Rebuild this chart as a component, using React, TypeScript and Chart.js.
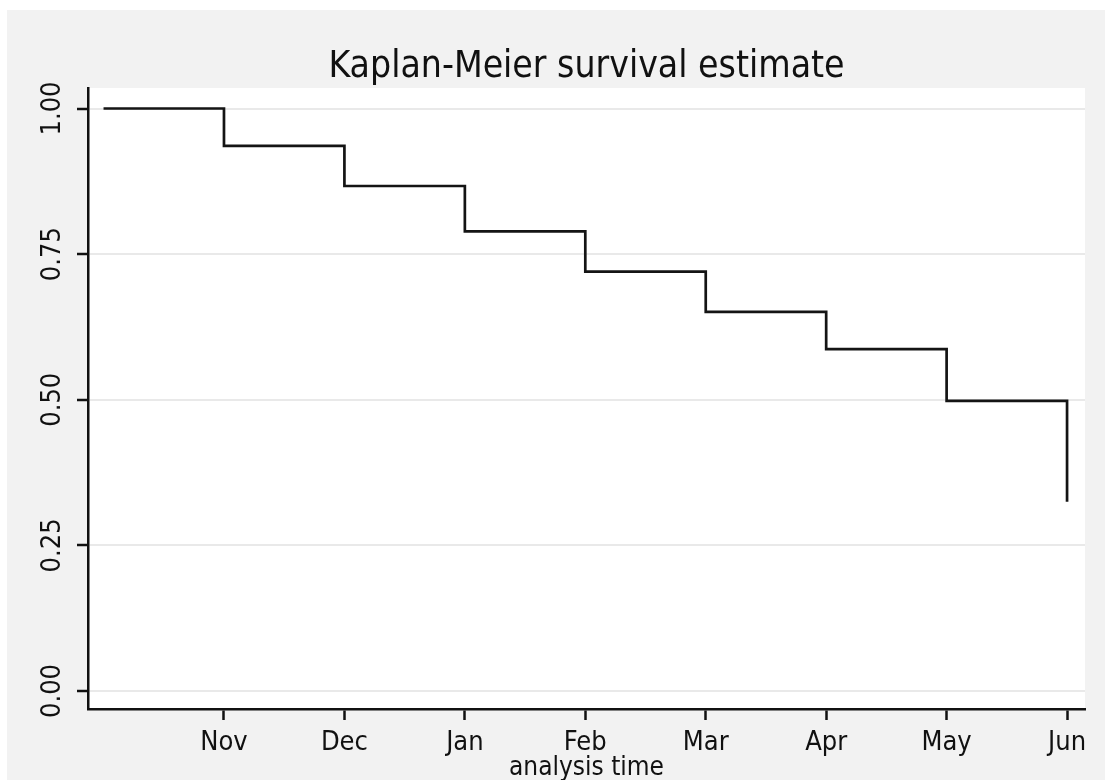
import React, { useEffect, useRef } from "react";
import { Chart, registerables } from "chart.js";

Chart.register(...registerables);

// Analysis time index (0 = start, 1 = Nov ... 8 = Jun)
const timePoints = [0, 1, 2, 3, 4, 5, 6, 7, 8];
const survival = [1.0, 0.936, 0.867, 0.789, 0.72, 0.651, 0.587, 0.498, 0.325];
const xTickValues = [1, 2, 3, 4, 5, 6, 7, 8];
const xTickLabels = ["Nov", "Dec", "Jan", "Feb", "Mar", "Apr", "May", "Jun"];
const yTickValues = [0, 0.25, 0.5, 0.75, 1.0];
const yTickLabels = ["0.00", "0.25", "0.50", "0.75", "1.00"];

const FONT = '"DejaVu Sans Condensed", "Liberation Sans Narrow", "DejaVu Sans", sans-serif';

const bgPlugin = {
  id: "stataBg",
  beforeDraw(chart: any) {
    const { ctx, width, height, chartArea } = chart;
    ctx.save();
    ctx.fillStyle = "#ffffff";
    ctx.fillRect(0, 0, width, height);
    ctx.fillStyle = "#f2f2f2";
    ctx.fillRect(7, 10, width - 7, height - 10);
    ctx.fillStyle = "#ffffff";
    ctx.fillRect(chartArea.left, chartArea.top, chartArea.right - chartArea.left, chartArea.bottom - chartArea.top);
    ctx.restore();
  },
};

export default function App() {
  const ref = useRef<HTMLCanvasElement | null>(null);

  useEffect(() => {
    document.body.style.margin = "0";
    const canvas = ref.current;
    if (!canvas) return;
    const chart = new Chart(canvas, {
      type: "line",
      data: {
        datasets: [
          {
            label: "Survivor function",
            data: timePoints.map((t, i) => ({ x: t, y: survival[i] })),
            borderColor: "#141414",
            borderWidth: 2.7,
            pointRadius: 0,
            stepped: true,
            fill: false,
          },
        ],
      },
      options: {
        animation: false,
        responsive: false,
        devicePixelRatio: 1,
        layout: { padding: { left: 0, top: 0, right: 20, bottom: 0 } },
        plugins: {
          legend: { display: false },
          tooltip: { enabled: false },
          title: {
            display: true,
            fullSize: false,
            text: "Kaplan-Meier survival estimate",
            color: "#111111",
            font: { family: FONT, size: 37, weight: "normal", lineHeight: 1 },
            padding: { top: 49, bottom: 2 },
          },
        },
        scales: {
          x: {
            type: "linear",
            min: -0.129,
            max: 8.149,
            afterBuildTicks: (scale: any) => {
              scale.ticks = xTickValues.map((v) => ({ value: v }));
            },
            afterFit: (scale: any) => {
              scale.height = 71;
            },
            ticks: {
              autoSkip: false,
              maxRotation: 0,
              minRotation: 0,
              padding: 7,
              color: "#111111",
              font: { family: FONT, size: 27 },
              callback: (v: any) => {
                const i = xTickValues.indexOf(Number(v));
                return i >= 0 ? xTickLabels[i] : "";
              },
            },
            grid: {
              drawOnChartArea: false,
              drawTicks: true,
              tickLength: 11,
              tickColor: "#111111",
              tickWidth: 2.5,
            },
            border: { display: true, color: "#111111", width: 2.5 },
            title: {
              display: true,
              text: "analysis time",
              color: "#111111",
              font: { family: FONT, size: 26, lineHeight: 1 },
              padding: { top: 0, bottom: -1 },
            },
          },
          y: {
            type: "linear",
            min: -0.0309,
            max: 1.0352,
            afterBuildTicks: (scale: any) => {
              scale.ticks = yTickValues.map((v) => ({ value: v }));
            },
            afterFit: (scale: any) => {
              scale.width = 88;
            },
            ticks: {
              autoSkip: false,
              minRotation: 90,
              maxRotation: 90,
              crossAlign: "center",
              padding: -3,
              color: "#111111",
              font: { family: FONT, size: 27 },
              callback: (v: any) => {
                const i = yTickValues.indexOf(Number(v));
                return i >= 0 ? yTickLabels[i] : "";
              },
            },
            grid: {
              color: "#e9e9e9",
              lineWidth: 2,
              drawTicks: true,
              tickLength: 11,
              tickColor: "#111111",
              tickWidth: 2.5,
            },
            border: { display: true, color: "#111111", width: 2.5 },
          },
        },
      },
      plugins: [bgPlugin],
    } as any);
    return () => chart.destroy();
  }, []);

  return (
    <div style={{ width: 1105, height: 780, overflow: "hidden" }}>
      <canvas ref={ref} width={1105} height={780} style={{ display: "block" }} />
    </div>
  );
}
